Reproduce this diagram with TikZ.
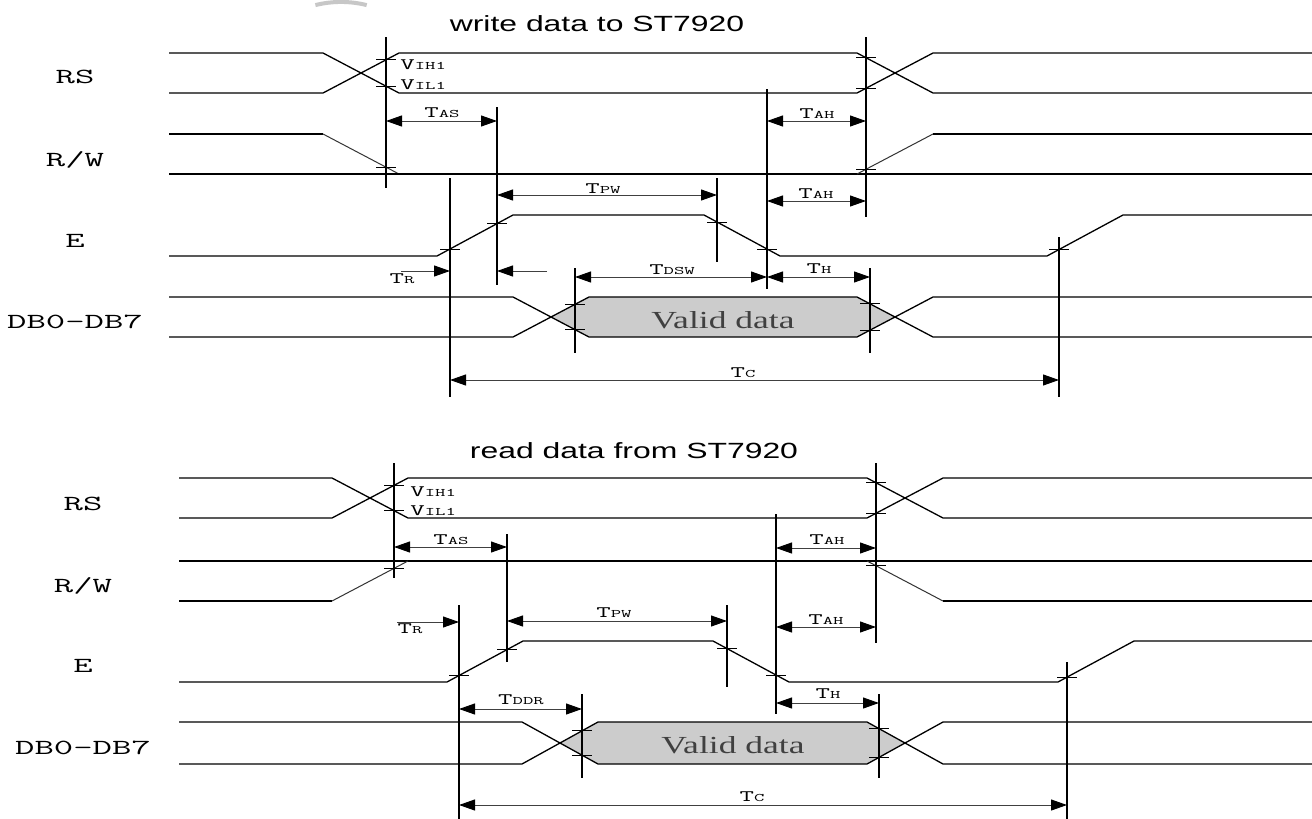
\documentclass[tikz,border=0pt]{standalone}
\usepackage{fontspec}
\newfontfamily\titlefont{Liberation Sans}
\newfontfamily\serfont{Liberation Serif}
\usetikzlibrary{arrows.meta}
\newcommand{\tlb}[2]{#1{\fontsize{11.5}{11.5}\selectfont #2}}
\begin{document}
\begin{tikzpicture}[x=1pt,y=-1pt,
  sig/.style={line width=1.3pt, line join=round},
  slim/.style={line width=1pt, draw=black!80},
  vl/.style={line width=1.4pt},
  tk/.style={line width=1pt},
  dimline/.style={line width=1pt, draw=black!75},
  >={Triangle[length=16pt,width=11pt,color=black]},
  lab/.style={font=\ttfamily\fontsize{21.5}{21.5}\selectfont, xscale=1.75, inner sep=0, anchor=base},
  tlab/.style={font=\ttfamily\fontsize{16}{16}\selectfont, xscale=1.75, inner sep=0, anchor=base},
  ttl/.style={font=\titlefont\fontsize{22}{22}\selectfont, xscale=1.45, inner sep=0, anchor=base},
  vd/.style={font=\serfont\fontsize{24.5}{24.5}\selectfont, xscale=1.45, inner sep=0, anchor=base, text=black!75},
]
\useasboundingbox (0,0) rectangle (1312,819);
\fill[white] (0,0) rectangle (1312,819);
% faint watermark arc
\draw[line width=4pt, black!22] (315.4,5.1) arc[start angle=256, end angle=284, radius=106];

%================ WRITE =================
\node[ttl] (t1) at (597,31) {write data to ST7920};
\node[lab] (rs1) at (75,83) {RS};
\node[lab] (rw1) at (75,166) {R/W};
\node[lab] (e1) at (75,247) {E};
\node[lab] (db1) at (75,328) {DB0-DB7};

% data shading
\fill[black!20] (551,317) -- (589,297) -- (857,297) -- (895,317) -- (857,337) -- (589,337) -- cycle;
% RS
\draw[sig] (169,53) -- (323,53) -- (399,93) -- (857,93) -- (933,53) -- (1312,53);
\draw[sig] (169,93) -- (323,93) -- (399,53) -- (857,53) -- (933,93) -- (1312,93);
% R/W
\draw[sig] (169,134) -- (323,134);
\draw[slim] (323,134) -- (399,174);
\draw[sig] (169,174) -- (1312,174);
\draw[slim] (857,174) -- (933,134);
\draw[sig] (933,134) -- (1312,134);
% E
\draw[sig] (169,256) -- (437,256) -- (513,215) -- (704,215) -- (780,256) -- (1047,256) -- (1123,215) -- (1312,215);
% DB
\draw[sig] (169,297) -- (513,297) -- (589,337) -- (857,337) -- (933,297) -- (1312,297);
\draw[sig] (169,337) -- (513,337) -- (589,297) -- (857,297) -- (933,337) -- (1312,337);
\node[vd] (vd1) at (723,328) {Valid data};

% verticals
\draw[vl] (386,37) -- (386,188);
\draw[vl] (450,178) -- (450,397);
\draw[vl] (497,107) -- (497,285);
\draw[vl] (575,268) -- (575,353);
\draw[vl] (717,178) -- (717,262);
\draw[vl] (767,89) -- (767,289);
\draw[vl] (866,37) -- (866,217);
\draw[vl] (870,268) -- (870,353);
\draw[vl] (1059,237) -- (1059,397);

% ticks
\foreach \x/\y in {386/59.8, 386/86.2, 866/57.7, 866/88.3, 386/167.2, 866/169.3,
  450/249, 497/223.6, 717/222, 767/249, 1059/249.5,
  575/304.4, 575/329.6, 870/303.8, 870/330.2}
  \draw[tk] (\x-10,\y) -- (\x+10,\y);

% dimension arrows
\draw[dimline,<->] (386,121) -- (497,121);
\draw[dimline,<->] (767,121) -- (866,121);
\draw[dimline,<->] (497,195) -- (717,195);
\draw[dimline,<->] (767,201) -- (866,201);
\draw[dimline,->] (401,271) -- (450,271);
\draw[dimline,->] (547,271) -- (497,271);
\draw[dimline,<->] (575,277) -- (767,277);
\draw[dimline,<->] (767,277) -- (870,277);
\draw[dimline,<->] (450,380) -- (1059,380);

\node[tlab, anchor=base west] (vih1) at (400,69) {\tlb{V}{IH1}};
\node[tlab, anchor=base west] (vil1) at (400,89) {\tlb{V}{IL1}};
\node[tlab] (tas1) at (442,117) {\tlb{T}{AS}};
\node[tlab] (tah1) at (817,118) {\tlb{T}{AH}};
\node[tlab] (tpw1) at (603,193) {\tlb{T}{PW}};
\node[tlab] (tah1b) at (816,198) {\tlb{T}{AH}};
\node[tlab] (tr1) at (402,283) {\tlb{T}{R}};
\node[tlab] (tdsw) at (672,274) {\tlb{T}{DSW}};
\node[tlab] (th1) at (819,273) {\tlb{T}{H}};
\node[tlab] (tc1) at (743,377) {\tlb{T}{C}};

%================ READ =================
\node[ttl] (t2) at (634,458) {read data from ST7920};
\node[lab] (rs2) at (83,510) {RS};
\node[lab] (rw2) at (83,592) {R/W};
\node[lab] (e2) at (83,672) {E};
\node[lab] (db2) at (83,754) {DB0-DB7};

\fill[black!20] (560,743) -- (598,722) -- (867,722) -- (905,743) -- (867,764) -- (598,764) -- cycle;
% RS
\draw[sig] (179,478) -- (332,478) -- (408,518) -- (867,518) -- (943,478) -- (1312,478);
\draw[sig] (179,518) -- (332,518) -- (408,478) -- (867,478) -- (943,518) -- (1312,518);
% R/W
\draw[sig] (179,561) -- (1312,561);
\draw[sig] (179,601) -- (332,601);
\draw[slim] (332,601) -- (408,561);
\draw[slim] (867,561) -- (943,601);
\draw[sig] (943,601) -- (1312,601);
% E
\draw[sig] (179,682) -- (447,682) -- (523,641) -- (713,641) -- (789,682) -- (1058,682) -- (1134,641) -- (1312,641);
% DB
\draw[sig] (179,722) -- (522,722) -- (598,764) -- (867,764) -- (943,722) -- (1312,722);
\draw[sig] (179,764) -- (522,764) -- (598,722) -- (867,722) -- (943,764) -- (1312,764);
\node[vd] (vd2) at (733,753) {Valid data};

% verticals
\draw[vl] (394,463) -- (394,578);
\draw[vl] (459,605) -- (459,819);
\draw[vl] (507,534) -- (507,662);
\draw[vl] (582,694) -- (582,778);
\draw[vl] (727,605) -- (727,687);
\draw[vl] (776,514) -- (776,714);
\draw[vl] (876,463) -- (876,643);
\draw[vl] (879,694) -- (879,778);
\draw[vl] (1067,662) -- (1067,819);

\foreach \x/\y in {394/485.4, 394/510.6, 876/482.7, 876/513.3, 394/568.4, 876/565.7,
  459/675.5, 507/649.6, 727/648.6, 776/675, 1067/677.1,
  582/730.8, 582/755.2, 879/728.6, 879/757.4}
  \draw[tk] (\x-10,\y) -- (\x+10,\y);

\draw[dimline,<->] (394,547) -- (507,547);
\draw[dimline,<->] (776,548) -- (876,548);
\draw[dimline,->] (397,622) -- (459,622);
\draw[dimline,<->] (507,621) -- (727,621);
\draw[dimline,<->] (776,627) -- (876,627);
\draw[dimline,<->] (459,709) -- (582,709);
\draw[dimline,<->] (776,703) -- (879,703);
\draw[dimline,<->] (459,805) -- (1067,805);

\node[tlab, anchor=base west] (vih2) at (410,496) {\tlb{V}{IH1}};
\node[tlab, anchor=base west] (vil2) at (410,515) {\tlb{V}{IL1}};
\node[tlab] (tas2) at (451,544) {\tlb{T}{AS}};
\node[tlab] (tah2) at (827,544) {\tlb{T}{AH}};
\node[tlab] (tr2) at (410,633) {\tlb{T}{R}};
\node[tlab] (tpw2) at (614,617) {\tlb{T}{PW}};
\node[tlab] (tah2b) at (826,624) {\tlb{T}{AH}};
\node[tlab] (tddr) at (521,704) {\tlb{T}{DDR}};
\node[tlab] (th2) at (828,698) {\tlb{T}{H}};
\node[tlab] (tc2) at (752,801) {\tlb{T}{C}};
\end{tikzpicture}
\end{document}
